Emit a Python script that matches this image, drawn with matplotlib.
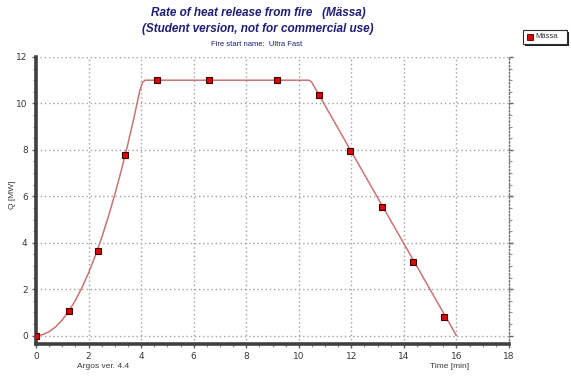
import matplotlib
matplotlib.use("Agg")
import matplotlib.pyplot as plt
from matplotlib.ticker import MultipleLocator

# Heat release curve (Ultra Fast growth, plateau, linear decay)
curve_time = [0.0, 0.25, 0.5, 0.75, 1.0, 1.25, 1.5, 1.75, 2.0, 2.25, 2.5, 2.75,
              3.0, 3.25, 3.5, 3.75, 3.95, 4.05, 4.15, 10.4, 10.5, 16.0]
curve_q = [0.0, 0.04, 0.17, 0.38, 0.68, 1.06, 1.52, 2.07, 2.70, 3.42, 4.22, 5.11,
           6.08, 7.13, 8.27, 9.50, 10.55, 10.90, 11.0, 11.0, 10.9, 0.0]

# Marker points of the series "Mässa"
marker_time = [0.0, 1.27, 2.35, 3.39, 4.62, 6.6, 9.17, 10.78, 11.95, 13.15, 14.36, 15.54]
marker_q = [0.0, 1.08, 3.65, 7.76, 11.0, 11.0, 11.0, 10.35, 7.96, 5.56, 3.19, 0.82]

series_name = "Mässa"
x_ticks = [0, 2, 4, 6, 8, 10, 12, 14, 16, 18]
y_ticks = [0, 2, 4, 6, 8, 10, 12]

W, H = 571, 377
fig = plt.figure(figsize=(W / 100, H / 100), dpi=100)
fig.patch.set_facecolor("white")

def fx(px):
    return px / W

def fy(py):
    return 1 - py / H

ax = fig.add_axes([fx(36), fy(344), fx(509) - fx(36), fy(57) - fy(344)])
ax.set_xlim(0, 18)
ax.set_ylim(-0.36, 12)

navy = "#1e1e78"
tick_col = "#3a3a3a"
grid_col = "#a0a0a0"

# grid
for xv in x_ticks[1:-1]:
    ax.axvline(xv, color=grid_col, lw=1.0, ls=(0, (1, 2)), zorder=1)
for yv in y_ticks:
    ax.axhline(yv, color=grid_col, lw=1.0, ls=(0, (1, 2)), zorder=1)

ax.plot(curve_time, curve_q, color="#c87474", lw=1.1, zorder=3, solid_capstyle="round")
ax.plot(marker_time, marker_q, ls="none", marker="s", ms=4.5, mfc="#e00000",
        mec="#3a0000", mew=0.8, zorder=4)

for s in ["left", "bottom"]:
    ax.spines[s].set_color("#404040")
    ax.spines[s].set_linewidth(2.6)
ax.spines["top"].set_visible(False)
ax.spines["right"].set_color("#707070")
ax.spines["right"].set_linewidth(1.0)
ax.spines["right"].set_linestyle((0, (1, 1.5)))

ax.set_xticks(x_ticks)
ax.set_yticks(y_ticks)
ax.xaxis.set_minor_locator(MultipleLocator(0.5))
ax.yaxis.set_minor_locator(MultipleLocator(0.5))
ax.tick_params(axis="both", which="major", length=3, width=1, color="#606060",
               labelsize=6.5, labelcolor=tick_col, pad=3)
ax.tick_params(axis="both", which="minor", length=2, width=0.8, color="#909090")
ax.tick_params(axis="y", which="both", right=True)
ax.tick_params(axis="y", which="both", labelright=False)

fig.text(fx(12), fy(195), "Q [MW]", rotation=90, ha="center", va="center",
         fontsize=6, color=tick_col, family="Liberation Sans")

fig.text(fx(258), fy(13), "Rate of heat release from fire   (Mässa)", ha="center",
         va="center", fontsize=8.5, fontweight="bold", fontstyle="italic",
         color=navy, family="Liberation Sans")
fig.text(fx(258), fy(29), "(Student version, not for commercial use)", ha="center",
         va="center", fontsize=8.5, fontweight="bold", fontstyle="italic",
         color=navy, family="Liberation Sans")
fig.text(fx(257), fy(45), "Fire start name:  Ultra Fast", ha="center", va="center",
         fontsize=5.5, color=navy, family="Liberation Sans")

fig.text(fx(103), fy(367), "Argos ver. 4.4", ha="center", va="center",
         fontsize=6, color=tick_col, family="Liberation Sans")
fig.text(fx(450), fy(367), "Time [min]", ha="center", va="center",
         fontsize=6, color=tick_col, family="Liberation Sans")

# legend box with drop shadow
lx0, ly0, lw_, lh_ = 523, 30, 44, 14
shadow = plt.Rectangle((fx(lx0 + 2), fy(ly0 + lh_ + 2)), fx(lw_), fy(0) - fy(lh_),
                       transform=fig.transFigure, facecolor="#202020",
                       edgecolor="none", zorder=5)
box = plt.Rectangle((fx(lx0), fy(ly0 + lh_)), fx(lw_), fy(0) - fy(lh_),
                    transform=fig.transFigure, facecolor="white",
                    edgecolor="#303030", lw=0.8, zorder=6)
fig.patches.extend([shadow, box])
fig.lines.append(plt.Line2D([fx(lx0 + 7)], [fy(ly0 + lh_ / 2)], transform=fig.transFigure,
                            marker="s", ms=4, mfc="#e00000", mec="#3a0000", mew=0.6,
                            ls="none", zorder=7))
fig.text(fx(lx0 + 12), fy(ly0 + lh_ / 2), series_name, ha="left", va="center",
         fontsize=5.5, color="#303030", family="Liberation Sans", zorder=7)

fig.savefig("out.png", dpi=100, facecolor="white")
